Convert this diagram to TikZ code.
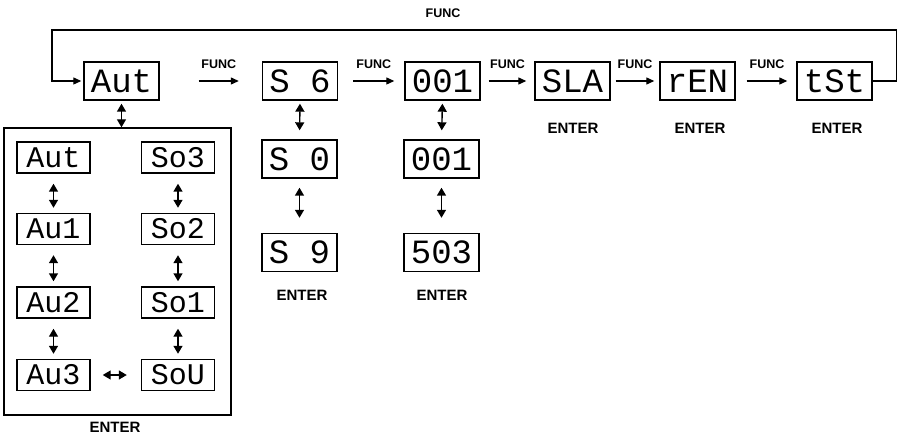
\documentclass[tikz,border=0pt]{standalone}
\usepackage{fontspec}
\usetikzlibrary{arrows.meta}
\setmainfont{Liberation Sans}
\newfontfamily\segfam{Liberation Mono}
\newcommand{\segbig}{\segfam\fontsize{34}{34}\selectfont}
\newcommand{\segsmall}{\segfam\fontsize{30}{30}\selectfont}
\newcommand{\keyfont}{\bfseries\fontsize{12.5}{12.5}\selectfont}
\newcommand{\enterfont}{\bfseries\fontsize{15}{15}\selectfont}

\tikzset{
  disp/.style={draw, line width=1.4pt, inner sep=0pt, minimum width=75pt, minimum height=38pt, font=\segbig},
  dispsm/.style={disp, minimum width=73pt, minimum height=31pt, font=\segsmall},
  updown/.style={{Triangle[length=8pt,width=9pt]}-{Triangle[length=8pt,width=9pt]}, line width=1.4pt},
  fwd/.style={-{Triangle[length=8pt,width=7pt]}, line width=1.2pt},
  funclbl/.style={font=\keyfont, inner sep=0pt},
  enterlbl/.style={font=\enterfont, inner sep=0pt}
}

\begin{document}
\begin{tikzpicture}[x=1pt,y=-1pt]
  \useasboundingbox (0,0) rectangle (898,441);
  % main row
  \node[disp] (aut) at (121.5,81) {Aut};
  \node[disp] (s6) at (300,81) {S 6};
  \node[disp] (addr) at (442.5,81) {001};
  \node[disp] (sla) at (572.5,81) {SLA};
  \node[disp] (ren) at (697.5,81) {rEN};
  \node[disp] (tst) at (834.5,81) {tSt};

  % sub menus
  \node[disp] (s0) at (299.5,159) {S 0};
  \node[disp] (s9) at (299.5,252.5) {S 9};
  \node[disp] (addra) at (441.5,159) {001};
  \node[disp] (addrb) at (441.5,252.5) {503};

  % auto / sound box
  \node[draw, line width=1.4pt, minimum width=227pt, minimum height=287pt] (autobox) at (117.5,271.5) {};
  \node[dispsm] (au0) at (53.5,157.5) {Aut};
  \node[dispsm] (au1) at (53.5,229) {Au1};
  \node[dispsm] (au2) at (53.5,302.5) {Au2};
  \node[dispsm] (au3) at (53.5,375) {Au3};
  \node[dispsm] (so3) at (178,157.5) {So3};
  \node[dispsm] (so2) at (178,229) {So2};
  \node[dispsm] (so1) at (178,302.5) {So1};
  \node[dispsm] (sou) at (178,375) {SoU};

  % ENTER
  \node[enterlbl] (ent1) at (115,427) {ENTER};
  \node[enterlbl] (ent2) at (302,295) {ENTER};
  \node[enterlbl] (ent3) at (442,295) {ENTER};
  \node[enterlbl] (ent4) at (573,128) {ENTER};
  \node[enterlbl] (ent5) at (700,128) {ENTER};
  \node[enterlbl] (ent6) at (837,128) {ENTER};

  % FUNC steps
  \draw[fwd] ([xshift=39pt]aut.east) -- node[funclbl, above=12pt] {FUNC} ([xshift=-23pt]s6.west);
  \draw[fwd] ([xshift=15pt]s6.east) -- node[funclbl, above=12pt] {FUNC} ([xshift=-10pt]addr.west);
  \draw[fwd] ([xshift=8pt]addr.east) -- node[funclbl, above=12pt] {FUNC} ([xshift=-8pt]sla.west);
  \draw[fwd] ([xshift=5pt]sla.east) -- node[funclbl, above=12pt] {FUNC} ([xshift=-5pt]ren.west);
  \draw[fwd] ([xshift=11pt]ren.east) -- node[funclbl, above=12pt] {FUNC} ([xshift=-9pt]tst.west);

  % back to start
  \coordinate (loopR) at (896.5,30);
  \coordinate (loopL) at (52,30);
  \draw[fwd] (tst.east) -| (loopR) -- node[funclbl, pos=0.537, above=12pt] {FUNC} (loopL) |- ([xshift=-2pt]aut.west);

  % up/down
  \draw[updown, shorten <=3pt] (aut.south) -- (aut.south |- autobox.north);
  \draw[updown, shorten <=3pt, shorten >=9pt] (s6.south) -- (s0.north);
  \draw[updown, shorten <=9pt, shorten >=15pt] (s0.south) -- (s9.north);
  \draw[updown, shorten <=3pt, shorten >=9pt] (addr.south) -- (addra.north);
  \draw[updown, shorten <=9pt, shorten >=15pt] (addra.south) -- (addrb.north);
  \draw[updown, shorten <=10pt, shorten >=5pt] (au0.south) -- (au1.north);
  \draw[updown, shorten <=10pt, shorten >=5pt] (au1.south) -- (au2.north);
  \draw[updown, shorten <=10pt, shorten >=5pt] (au2.south) -- (au3.north);
  \draw[updown, shorten <=10pt, shorten >=5pt] (so3.south) -- (so2.north);
  \draw[updown, shorten <=10pt, shorten >=5pt] (so2.south) -- (so1.north);
  \draw[updown, shorten <=10pt, shorten >=5pt] (so1.south) -- (sou.north);
  \draw[updown, shorten <=12pt, shorten >=14pt] (au3.east) -- (sou.west);
\end{tikzpicture}
\end{document}
